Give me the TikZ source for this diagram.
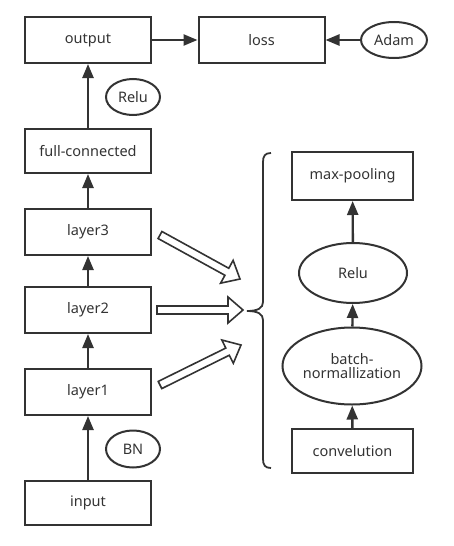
\documentclass[tikz,border=0pt]{standalone}
\usepackage{fontspec}
\setmainfont{Noto Sans}
\usetikzlibrary{arrows.meta,calc,shapes.geometric}
\definecolor{ink}{HTML}{333333}
\newcommand\hollowarrow[2]{%
  \coordinate (hb) at ($(#2)!15pt!(#1)$);
  \draw[hollow] ($(#1)!4pt!90:(#2)$) -- ($(hb)!4pt!90:(#2)$) -- ($(hb)!13pt!90:(#2)$) -- (#2)
    -- ($(hb)!13pt!-90:(#2)$) -- ($(hb)!4pt!-90:(#2)$) -- ($(#1)!4pt!-90:(#2)$) -- cycle;}
\begin{document}
\begin{tikzpicture}[x=1pt,y=-1pt,
  txt/.style={text=ink,font=\fontsize{14.5}{16}\selectfont,align=center},
  box/.style={txt,draw=ink,line width=2pt,minimum width=126pt,minimum height=46pt,inner sep=0pt},
  oval/.style={txt,draw=ink,line width=2pt,ellipse,inner sep=0pt},
  flow/.style={draw=ink,line width=2.4pt,-{Triangle[length=14pt,width=11pt]}},
  hollow/.style={draw=ink,line width=1.6pt,fill=white,line join=miter}]
\useasboundingbox (0,0) rectangle (454,546);
% left column
\node[box] (output) at (88,40) {output};
\node[box] (loss) at (261.5,40) {loss};
\node[oval,minimum width=66pt,minimum height=36pt] (adam) at (394,40) {Adam};
\node[oval,minimum width=54pt,minimum height=36pt] (relu1) at (133,97) {Relu};
\node[box,minimum height=44pt] (fc) at (88,151) {full-connected};
\node[box] (l3) at (88,232) {layer3};
\node[box] (l2) at (88,310) {layer2};
\node[box] (l1) at (88,392) {layer1};
\node[oval,minimum width=54pt,minimum height=37pt] (bn) at (133,449) {BN};
\node[box,minimum height=44pt] (input) at (88,503) {input};
% right column
\node[box,minimum width=121pt,minimum height=48pt] (mp) at (352.5,176) {max-pooling};
\node[oval,minimum width=108pt,minimum height=60pt] (relu2) at (353,273) {Relu};
\node[oval,minimum width=133pt,minimum height=77pt] (bnorm) at (352,366) {batch-\\[-2pt]normallization};
\node[box,minimum width=121pt,minimum height=44pt] (conv) at (352.5,451) {convelution};
% flow arrows
\draw[flow] (input) -- (l1);
\draw[flow] (l1) -- (l2);
\draw[flow] (l2) -- (l3);
\draw[flow] (l3) -- (fc);
\draw[flow] (fc) -- (output);
\draw[flow] (output) -- (loss);
\draw[flow] (adam) -- (loss);
\draw[flow] (conv) -- (bnorm);
\draw[flow] (bnorm) -- (relu2);
\draw[flow] (relu2) -- (mp);
% brace
\coordinate (btop) at (271,153);
\coordinate (bbot) at (271,468);
\coordinate (btip) at (247,311);
\draw[ink,line width=1.8pt] (btop) .. controls (265,153) and (263,156) .. (263,162) -- (263,302)
  .. controls (263,308) and (258,311) .. (btip) .. controls (258,311) and (263,314) .. (263,320)
  -- (263,459) .. controls (263,465) and (265,468) .. (bbot);
% hollow arrows
\coordinate (a1s) at (160,235); \coordinate (a1e) at (240,279);
\coordinate (a2s) at (157,310); \coordinate (a2e) at (243,310);
\coordinate (a3s) at (160,385); \coordinate (a3e) at (241,345);
\hollowarrow{a1s}{a1e}
\hollowarrow{a2s}{a2e}
\hollowarrow{a3s}{a3e}
\end{tikzpicture}
\end{document}
